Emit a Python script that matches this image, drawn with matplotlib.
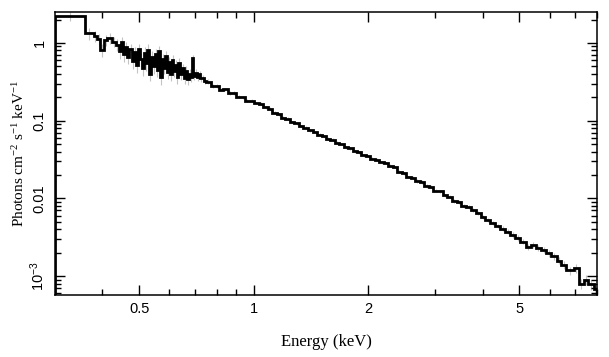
import matplotlib.pyplot as plt
import numpy as np
from matplotlib.ticker import FixedLocator, NullFormatter

plt.rcParams["font.family"] = ["Liberation Sans", "DejaVu Sans"]
plt.rcParams["mathtext.default"] = "regular"

# bin edges (keV) and unfolded flux (photons cm^-2 s^-1 keV^-1)
edges_low = [0.30, 0.36, 0.379, 0.387, 0.394, 0.403, 0.412, 0.425, 0.435]
flux_low = [2.23, 1.33, 1.21, 1.12, 0.81, 1.09, 1.16, 1.04]
err_low = [0.13, 0.18, 0.16, 0.16, 0.18, 0.16, 0.16, 0.16]

edges_mid = [0.441, 0.447, 0.453, 0.459, 0.465, 0.471, 0.477, 0.483, 0.489, 0.495,
             0.501, 0.507, 0.513, 0.519, 0.525, 0.531, 0.537, 0.543, 0.549, 0.555,
             0.561, 0.567, 0.573, 0.579, 0.585, 0.591, 0.597, 0.603, 0.609, 0.615,
             0.621, 0.627, 0.633, 0.640, 0.647, 0.654, 0.661, 0.668, 0.675, 0.682,
             0.688, 0.694, 0.700, 0.708, 0.716, 0.724, 0.732, 0.741]
flux_mid = [0.95, 0.78, 1.02, 0.72, 0.88, 0.66, 0.83, 0.58, 0.76, 0.52,
            0.84, 0.62, 0.47, 0.74, 0.55, 0.82, 0.40, 0.66, 0.50, 0.71,
            0.45, 0.78, 0.36, 0.62, 0.48, 0.68, 0.42, 0.56, 0.40, 0.60,
            0.44, 0.52, 0.36, 0.55, 0.40, 0.47, 0.35, 0.44, 0.34, 0.40,
            0.36, 0.64, 0.38, 0.41, 0.36, 0.40, 0.35, 0.355, 0.325]
err_mid = [0.18, 0.2, 0.17, 0.2, 0.18, 0.2, 0.18, 0.2, 0.18, 0.2,
           0.17, 0.2, 0.2, 0.18, 0.2, 0.17, 0.2, 0.18, 0.2, 0.17,
           0.2, 0.16, 0.2, 0.17, 0.18, 0.16, 0.18, 0.17, 0.18, 0.16,
           0.17, 0.16, 0.18, 0.15, 0.16, 0.15, 0.16, 0.15, 0.15, 0.14,
           0.14, 0.1, 0.12, 0.11, 0.11, 0.1, 0.1, 0.09, 0.09]

edges_high = [0.75, 0.77, 0.79, 0.81, 0.83, 0.855, 0.88, 0.90, 0.925, 0.95,
              0.975, 1.00, 1.03, 1.06, 1.09, 1.12, 1.15, 1.18, 1.21, 1.245,
              1.28, 1.315, 1.35, 1.39, 1.43, 1.47, 1.51, 1.55, 1.59, 1.635,
              1.68, 1.725, 1.77, 1.82, 1.87, 1.92, 1.97, 2.02, 2.08, 2.14,
              2.20, 2.26, 2.32, 2.38, 2.45, 2.52, 2.59, 2.66, 2.73, 2.81,
              2.89, 2.97, 3.05, 3.14, 3.23, 3.32, 3.42, 3.52, 3.62, 3.73,
              3.84, 3.95, 4.07, 4.19, 4.32, 4.45, 4.59, 4.73, 4.88, 5.03,
              5.19, 5.35, 5.52, 5.70, 5.88, 6.07, 6.27, 6.45, 6.62, 6.94,
              7.16, 7.38, 7.56, 7.85, 8.0]
flux_high = [0.318, 0.282, 0.280, 0.250, 0.254, 0.226, 0.228, 0.203, 0.199, 0.180,
             0.181, 0.168, 0.165, 0.149, 0.143, 0.127, 0.121, 0.109, 0.106, 0.0960,
             0.0925, 0.0850, 0.0815, 0.0748, 0.0715, 0.0658, 0.0636, 0.0588, 0.0568, 0.0518,
             0.0499, 0.0456, 0.0440, 0.0403, 0.0391, 0.0359, 0.0350, 0.0324, 0.0316, 0.0291,
             0.0286, 0.0263, 0.0254, 0.0220, 0.0209, 0.0189, 0.0184, 0.0167, 0.0162, 0.0145,
             0.0141, 0.0126, 0.0123, 0.0109, 0.0105, 0.00930, 0.00895, 0.00798, 0.00768, 0.00715,
             0.00652, 0.00575, 0.00528, 0.00484, 0.00443, 0.00407, 0.00372, 0.00340, 0.00310, 0.00278,
             0.00236, 0.00250, 0.00228, 0.00216, 0.00198, 0.00181, 0.00158, 0.00140, 0.00118, 0.00126,
             0.00080, 0.00090, 0.00078, 0.00068]
err_high = [0.07, 0.06, 0.06, 0.05, 0.05, 0.05, 0.05, 0.04, 0.04, 0.04,
            0.04, 0.04, 0.04, 0.04, 0.04, 0.04, 0.04, 0.04, 0.04, 0.04,
            0.04, 0.04, 0.04, 0.04, 0.04, 0.04, 0.04, 0.04, 0.04, 0.04,
            0.04, 0.04, 0.04, 0.04, 0.04, 0.04, 0.04, 0.04, 0.04, 0.04,
            0.04, 0.04, 0.04, 0.04, 0.04, 0.04, 0.04, 0.05, 0.05, 0.05,
            0.05, 0.05, 0.05, 0.05, 0.05, 0.05, 0.05, 0.06, 0.06, 0.06,
            0.06, 0.06, 0.06, 0.07, 0.07, 0.07, 0.07, 0.08, 0.08, 0.08,
            0.08, 0.09, 0.09, 0.09, 0.1, 0.1, 0.1, 0.12, 0.12, 0.12,
            0.15, 0.15, 0.15, 0.18]

x_major = [0.5, 1, 2, 5]
x_major_labels = ["0.5", "1", "2", "5"]
x_minor = [0.4, 0.6, 0.7, 0.8, 0.9, 3, 4, 6, 7, 8]
y_major = [1e-3, 1e-2, 0.1, 1]
y_major_labels = ["10$^{-3}$", "0.01", "0.1", "1"]

edges = np.array(edges_low + edges_mid + edges_high)
flux = np.array(flux_low + flux_mid + flux_high)
err = np.array(err_low + err_mid + err_high) * flux
centers = np.sqrt(edges[:-1] * edges[1:])

fig = plt.figure(figsize=(6.09, 3.57), dpi=100)
ax = fig.add_axes([55 / 609, 62 / 357, 542 / 609, 283 / 357])

ax.errorbar(centers, flux, yerr=err, fmt="none", ecolor="#c4c4c4", elinewidth=0.8, zorder=1)
ax.stairs(flux, edges, color="black", linewidth=2.0, zorder=2)

ax.set_xscale("log")
ax.set_yscale("log")
ax.set_xlim(0.3, 8.0)
ax.set_ylim(5.7e-4, 2.5)

ax.xaxis.set_major_locator(FixedLocator(x_major))
ax.set_xticklabels(x_major_labels)
ax.xaxis.set_minor_locator(FixedLocator(x_minor))
ax.xaxis.set_minor_formatter(NullFormatter())
ax.yaxis.set_major_locator(FixedLocator(y_major))
ax.set_yticklabels(y_major_labels)
ax.yaxis.set_minor_locator(FixedLocator(
    [m * 10.0 ** e for e in range(-4, 1) for m in range(2, 10)]))
ax.yaxis.set_minor_formatter(NullFormatter())

ax.tick_params(which="both", direction="in", top=True, right=True, width=1.0, labelsize=10.5)
ax.tick_params(which="major", length=7)
ax.tick_params(which="minor", length=4)
ax.tick_params(axis="x", pad=5)
ax.tick_params(axis="y", pad=6)
for lab in ax.get_yticklabels():
    lab.set_rotation(90)
    lab.set_verticalalignment("center")
for s in ax.spines.values():
    s.set_linewidth(1.1)

ax.set_xlabel("Energy (keV)", family="Liberation Serif", fontsize=12, labelpad=13)
ax.set_ylabel("Photons cm$^{-2}$ s$^{-1}$ keV$^{-1}$", family="Liberation Serif",
              fontsize=11, labelpad=0.5)

fig.savefig("out.png", dpi=100)
